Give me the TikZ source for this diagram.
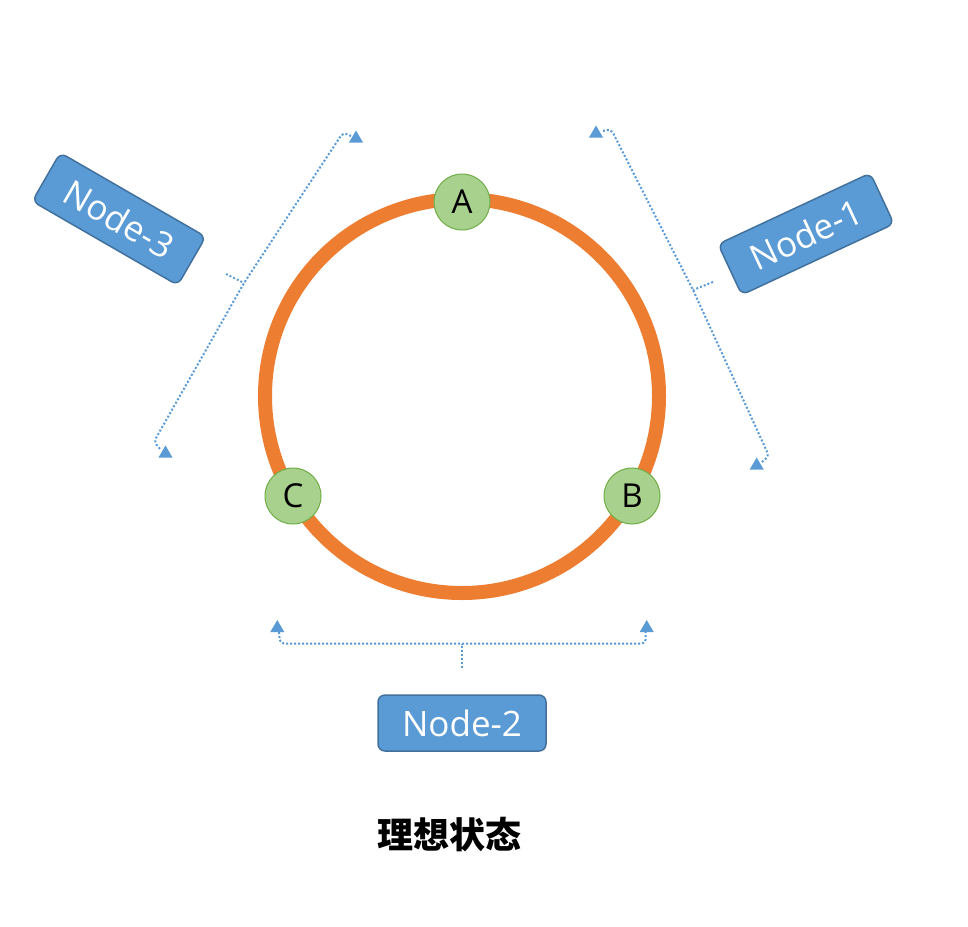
\documentclass[tikz,border=0pt]{standalone}
\usepackage{fontspec}
\setmainfont{Open Sans}
\newfontfamily\cjk{Noto Sans CJK SC}
\definecolor{ringc}{HTML}{ED7D31}
\definecolor{gfill}{HTML}{A9D18E}
\definecolor{gline}{HTML}{70AD47}
\definecolor{bfill}{HTML}{5B9BD5}
\definecolor{bline}{HTML}{41719C}
\newcommand\uptip[1]{\fill[bfill] (#1) -- ++(-7,12) -- ++(14,0) -- cycle;}
\begin{document}
\begin{tikzpicture}[x=1pt,y=-1pt,
  ringnode/.style={circle,minimum size=56pt,inner sep=0pt,fill=gfill,draw=gline,line width=1pt,font=\fontsize{33}{38}\selectfont},
  labelbox/.style={rectangle,rounded corners=7pt,minimum width=168pt,minimum height=56pt,inner sep=0pt,fill=bfill,draw=bline,line width=1.5pt,text=white,font=\fontsize{35}{40}\selectfont},
  dotline/.style={draw=bfill,line width=2pt,dash pattern=on 2pt off 2pt,rounded corners=4pt}]
\useasboundingbox[fill=white] (0,0) rectangle (968,926);
% ring
\coordinate (O) at (462,396);
\draw[ringc,line width=14pt] (O) circle[radius=197];
\node[ringnode] (A) at (462,202) {A};
\node[ringnode] (B) at (632,496) {B};
\node[ringnode] (C) at (293,496) {C};
% labels
\node[labelbox] (n2) at (462,723) {Node-2};
\node[labelbox,rotate=-30] (n3) at (119,219) {Node-3};
\node[labelbox,rotate=25] (n1) at (806,234) {Node-1};
% bottom bracket (Node-2)
\coordinate (s2) at (462,668);
\coordinate (j2) at (462,643.5);
\coordinate (l2a) at (279,632);
\coordinate (l2b) at (280,643.5);
\coordinate (r2b) at (645.7,643.5);
\coordinate (r2a) at (645.7,632);
\coordinate (t2l) at (277.3,620);
\coordinate (t2r) at (646.7,620);
\draw[dotline] (s2) -- (j2);
\draw[dotline] (l2a) -- (l2b) -- (r2b) -- (r2a);
\uptip{t2l}
\uptip{t2r}
% left bracket (Node-3)
\coordinate (s3) at (226,274);
\coordinate (j3) at (244,283);
\coordinate (u3a) at (351,136);
\coordinate (u3b) at (343,132.5);
\coordinate (d3b) at (154,441.5);
\coordinate (d3a) at (160,449);
\coordinate (t3u) at (356,130.5);
\coordinate (t3d) at (165.5,445.5);
\draw[dotline] (s3) -- (j3);
\draw[dotline] (u3a) -- (u3b) -- (j3) -- (d3b) -- (d3a);
\uptip{t3u}
\uptip{t3d}
% right bracket (Node-1)
\coordinate (s1) at (713,282);
\coordinate (j1) at (693,290);
\coordinate (u1a) at (603,131);
\coordinate (u1b) at (611,129);
\coordinate (d1b) at (769,456);
\coordinate (d1a) at (762,462);
\coordinate (t1u) at (596,125.5);
\coordinate (t1d) at (756.7,457.5);
\draw[dotline] (s1) -- (j1);
\draw[dotline] (u1a) -- (u1b) -- (j1) -- (d1b) -- (d1a);
\uptip{t1u}
\uptip{t1d}
% title
\node (title) at (449,835) {\cjk\bfseries\fontsize{36}{40}\selectfont 理想状态};
\end{tikzpicture}
\end{document}
